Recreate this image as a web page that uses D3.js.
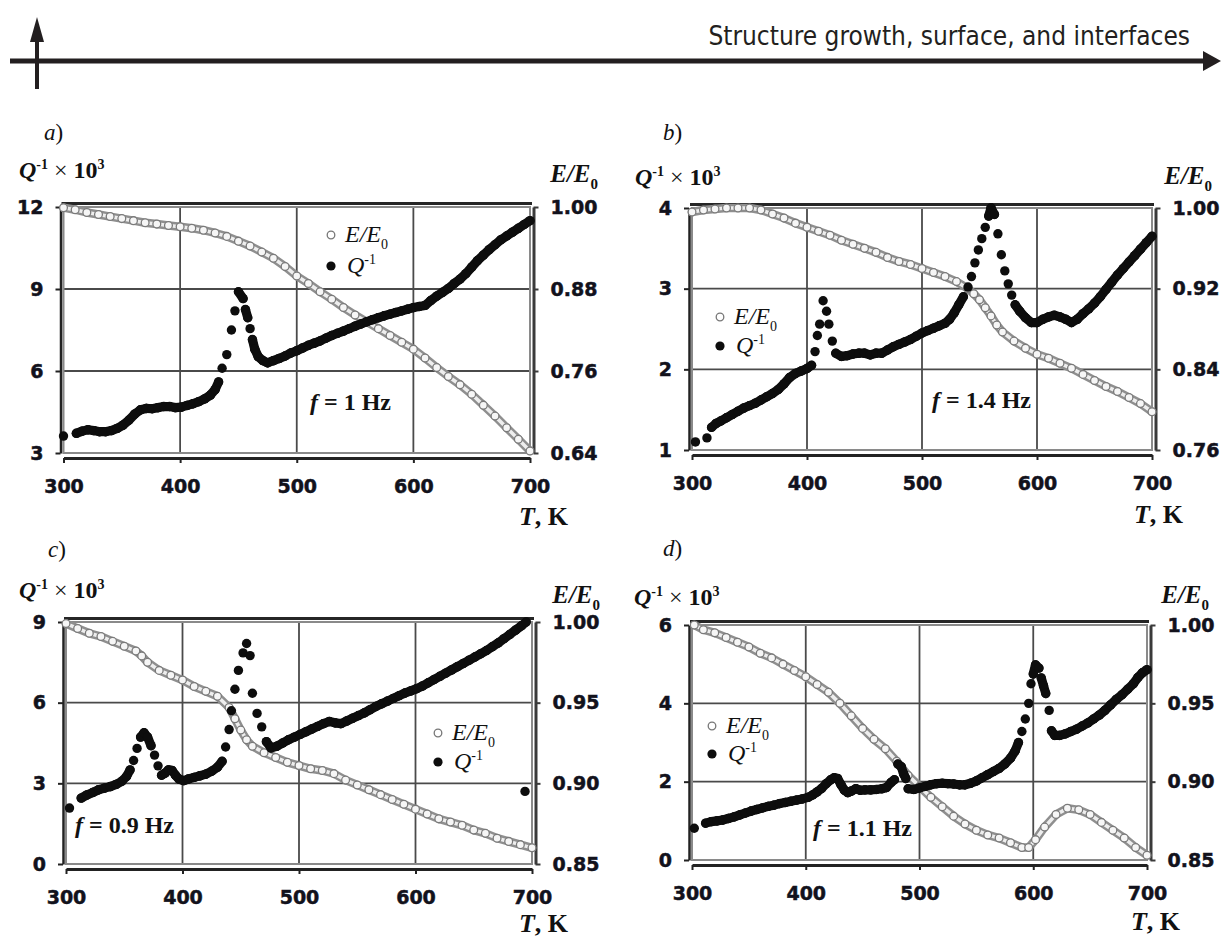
<!DOCTYPE html>
<html><head><meta charset="utf-8">
<script src="https://cdn.jsdelivr.net/npm/d3@7"></script>
<style>body{margin:0;background:#fff} svg{display:block}</style>
</head><body>
<svg id="c" width="1221" height="944"></svg>
<script>
// ---------------- DATA ----------------
const headerTitle = "Structure growth, surface, and interfaces";
const tempTicks = [300, 400, 500, 600, 700];
const tempDomain = [300, 700];

const qTicksA = [3, 6, 9, 12];        const eTicksA = [0.64, 0.76, 0.88, 1.00];
const qTicksB = [1, 2, 3, 4];         const eTicksB = [0.76, 0.84, 0.92, 1.00];
const qTicksC = [0, 3, 6, 9];         const eTicksC = [0.85, 0.90, 0.95, 1.00];
const qTicksD = [0, 2, 4, 6];         const eTicksD = [0.85, 0.90, 0.95, 1.00];

const freqA = "1", freqB = "1.4", freqC = "0.9", freqD = "1.1";

// Q^-1 x 10^3  [T, value]
const qA = [[300,3.62],[311,3.72],[316,3.8],[321,3.85],[326,3.82],[331,3.78],[336,3.78],[341,3.82],[346,3.9],[351,4.02],[356,4.2],[361,4.42],[366,4.58],[371,4.63],[376,4.62],[381,4.66],[386,4.7],[391,4.7],[396,4.66],[401,4.68],[406,4.74],[411,4.8],[416,4.88],[421,4.98],[426,5.12],[430,5.32],[433,5.6],[436,6.1],[440,6.6],[444,7.5],[447,8.2],[450,8.9],[454,8.65],[456,8.25],[458,7.95],[460,7.55],[462,7.15],[464,6.8],[467,6.52],[471,6.38],[475,6.3],[480,6.38],[485,6.46],[490,6.55],[495,6.66],[500,6.74],[505,6.84],[510,6.94],[515,7.02],[520,7.1],[525,7.2],[530,7.3],[535,7.38],[540,7.46],[545,7.55],[550,7.64],[555,7.72],[560,7.8],[565,7.88],[570,7.95],[575,8.02],[580,8.08],[585,8.14],[590,8.2],[595,8.26],[600,8.32],[605,8.36],[610,8.4],[615,8.58],[620,8.74],[625,8.88],[630,9.02],[635,9.2],[640,9.36],[645,9.56],[650,9.8],[655,10.04],[660,10.24],[665,10.44],[670,10.62],[675,10.8],[680,10.94],[685,11.08],[690,11.22],[695,11.36],[700,11.5]];
const eA = [[300,0.999],[310,0.996],[320,0.992],[330,0.989],[340,0.986],[350,0.983],[360,0.980],[370,0.977],[380,0.975],[390,0.973],[400,0.971],[410,0.969],[420,0.966],[430,0.962],[440,0.957],[450,0.950],[460,0.943],[470,0.934],[480,0.925],[490,0.913],[500,0.899],[510,0.888],[520,0.876],[530,0.865],[540,0.853],[550,0.842],[560,0.832],[570,0.822],[580,0.812],[590,0.802],[600,0.792],[610,0.779],[620,0.765],[630,0.752],[640,0.740],[650,0.726],[660,0.710],[670,0.694],[680,0.677],[690,0.660],[700,0.643]];

const qB = [[303,1.1],[313,1.15],[317,1.28],[321,1.33],[325,1.36],[330,1.4],[335,1.44],[340,1.48],[345,1.52],[350,1.55],[355,1.58],[360,1.62],[365,1.66],[370,1.7],[375,1.75],[380,1.82],[385,1.9],[390,1.95],[395,1.98],[400,2.01],[404,2.05],[407,2.22],[409,2.42],[411,2.56],[414,2.85],[417,2.72],[419,2.56],[422,2.35],[425,2.2],[430,2.16],[435,2.17],[440,2.19],[445,2.2],[450,2.2],[455,2.18],[460,2.2],[465,2.2],[470,2.24],[475,2.28],[480,2.31],[485,2.34],[490,2.37],[495,2.41],[500,2.45],[505,2.48],[510,2.51],[515,2.54],[520,2.57],[524,2.62],[528,2.7],[532,2.8],[536,2.9],[540,3.02],[543,3.15],[546,3.32],[549,3.48],[552,3.62],[555,3.76],[558,3.9],[560,4.0],[563,3.92],[566,3.68],[569,3.42],[572,3.22],[575,3.06],[578,2.92],[581,2.8],[585,2.72],[590,2.64],[595,2.58],[600,2.58],[605,2.62],[610,2.65],[615,2.67],[620,2.65],[625,2.62],[630,2.58],[635,2.62],[640,2.69],[645,2.75],[650,2.82],[655,2.9],[660,2.99],[665,3.08],[670,3.17],[675,3.25],[680,3.33],[685,3.41],[690,3.49],[695,3.57],[700,3.65]];
const eB = [[300,0.996],[310,0.998],[320,0.999],[330,1.0],[340,1.0],[350,1.0],[360,0.998],[370,0.994],[380,0.990],[390,0.985],[400,0.981],[410,0.977],[420,0.973],[430,0.968],[440,0.964],[450,0.960],[460,0.956],[470,0.951],[480,0.947],[490,0.944],[500,0.940],[510,0.936],[520,0.932],[530,0.927],[540,0.920],[545,0.915],[550,0.909],[555,0.901],[560,0.893],[565,0.884],[570,0.877],[580,0.868],[590,0.861],[600,0.855],[610,0.851],[620,0.846],[630,0.841],[640,0.835],[650,0.829],[660,0.823],[670,0.818],[680,0.812],[690,0.806],[700,0.798]];

const qC = [[303,2.08],[313,2.45],[318,2.57],[323,2.66],[328,2.76],[333,2.82],[338,2.88],[343,2.96],[348,3.08],[352,3.26],[355,3.5],[358,3.85],[361,4.3],[364,4.72],[367,4.88],[370,4.72],[373,4.4],[376,4.05],[379,3.65],[382,3.3],[385,3.38],[388,3.5],[391,3.48],[394,3.3],[397,3.16],[401,3.1],[405,3.16],[410,3.22],[415,3.28],[420,3.34],[425,3.45],[430,3.6],[434,3.82],[437,4.35],[440,5.0],[442,5.7],[445,6.5],[448,7.2],[452,7.85],[455,8.2],[458,7.75],[460,6.35],[464,5.6],[468,5.1],[472,4.55],[476,4.32],[481,4.38],[486,4.5],[491,4.62],[496,4.72],[501,4.82],[506,4.92],[511,5.02],[516,5.12],[521,5.22],[526,5.3],[531,5.25],[536,5.22],[541,5.32],[546,5.42],[551,5.52],[556,5.62],[561,5.74],[566,5.86],[571,5.96],[576,6.06],[581,6.16],[586,6.26],[591,6.36],[596,6.44],[601,6.52],[606,6.62],[611,6.74],[616,6.86],[621,6.98],[626,7.1],[631,7.22],[636,7.34],[641,7.46],[646,7.58],[651,7.7],[656,7.82],[661,7.94],[666,8.08],[671,8.22],[676,8.38],[681,8.54],[686,8.7],[691,8.86],[695,9.0],[694,2.7]];
const eC = [[300,0.999],[310,0.996],[320,0.993],[330,0.991],[340,0.988],[350,0.985],[360,0.982],[365,0.979],[370,0.975],[380,0.970],[390,0.967],[400,0.964],[410,0.960],[420,0.957],[430,0.954],[440,0.947],[445,0.940],[450,0.933],[455,0.927],[460,0.923],[470,0.919],[480,0.916],[490,0.913],[500,0.911],[510,0.909],[520,0.908],[530,0.906],[540,0.902],[550,0.899],[560,0.896],[570,0.893],[580,0.890],[590,0.887],[600,0.884],[610,0.881],[620,0.878],[630,0.876],[640,0.874],[650,0.871],[660,0.869],[670,0.866],[680,0.864],[690,0.862],[700,0.860]];

const qD = [[302,0.81],[312,0.94],[317,0.98],[322,1.0],[327,1.02],[332,1.06],[337,1.1],[342,1.15],[347,1.2],[352,1.25],[357,1.29],[362,1.33],[367,1.37],[372,1.4],[377,1.44],[382,1.47],[387,1.5],[392,1.53],[397,1.56],[402,1.6],[406,1.66],[410,1.74],[414,1.83],[418,1.95],[422,2.05],[425,2.1],[428,2.08],[431,1.92],[434,1.78],[437,1.72],[440,1.76],[444,1.82],[448,1.78],[452,1.79],[457,1.79],[462,1.8],[467,1.82],[471,1.85],[475,1.98],[478,2.05],[481,2.45],[484,2.38],[486,2.2],[488,2.08],[490,1.82],[495,1.8],[500,1.84],[505,1.88],[510,1.92],[515,1.95],[520,1.96],[525,1.95],[530,1.94],[535,1.92],[540,1.92],[545,1.96],[550,2.02],[555,2.1],[560,2.18],[565,2.26],[570,2.34],[575,2.45],[580,2.6],[584,2.78],[587,3.0],[590,3.28],[593,3.6],[596,4.0],[598,4.5],[600,4.75],[602,4.98],[605,4.9],[607,4.65],[609,4.45],[611,4.25],[614,3.82],[616,3.3],[619,3.18],[623,3.18],[628,3.22],[633,3.28],[638,3.34],[643,3.42],[648,3.5],[653,3.6],[658,3.7],[663,3.82],[668,3.96],[673,4.1],[678,4.22],[683,4.36],[688,4.5],[692,4.66],[696,4.78],[700,4.86]];
const eD = [[302,1.0],[310,0.997],[320,0.995],[330,0.992],[340,0.989],[350,0.986],[360,0.982],[370,0.979],[380,0.975],[390,0.971],[400,0.967],[410,0.962],[420,0.957],[430,0.950],[440,0.942],[450,0.934],[460,0.927],[470,0.921],[480,0.913],[490,0.904],[500,0.897],[510,0.890],[520,0.884],[530,0.878],[540,0.873],[550,0.869],[560,0.866],[570,0.864],[580,0.861],[590,0.858],[596,0.858],[602,0.863],[610,0.871],[620,0.879],[630,0.883],[640,0.882],[650,0.879],[660,0.874],[670,0.869],[680,0.864],[690,0.858],[700,0.853]];

// ---------------- LAYOUT ----------------
const panels = [
  {id:"a", q:qA, e:eA, qTicks:qTicksA, eTicks:eTicksA, freq:freqA,
   L:63.5, R:530, T:207, B:453, letter:[44,140], qTitle:[19,178], eTitle:[598,182], tk:[568,525],
   legE:[331,235], legQ:[331,266], freqPos:[310,410]},
  {id:"b", q:qB, e:eB, qTicks:qTicksB, eTicks:eTicksB, freq:freqB,
   L:692, R:1152, T:208, B:450, letter:[663,140], qTitle:[635,185], eTitle:[1212,184], tk:[1183,523],
   legE:[720,317], legQ:[720,346], freqPos:[932,408]},
  {id:"c", q:qC, e:eC, qTicks:qTicksC, eTicks:eTicksC, freq:freqC,
   L:66, R:532, T:622, B:864, letter:[48,557], qTitle:[19,598], eTitle:[600,603], tk:[568,932],
   legE:[438,733], legQ:[438,762], freqPos:[75,833]},
  {id:"d", q:qD, e:eD, qTicks:qTicksD, eTicks:eTicksD, freq:freqD,
   L:692, R:1147, T:625, B:860, letter:[663,556], qTitle:[634,605], eTitle:[1209,603], tk:[1180,930],
   legE:[712,726], legQ:[712,754], freqPos:[813,836]}
];

const svg = d3.select("#c");
const SERIF = "'Liberation Serif','Times New Roman',serif";
const SANS = "'DejaVu Sans',Arial,sans-serif";

// ---------------- HEADER ----------------
const hdr = svg.append("g");
hdr.append("line").attr("x1",10).attr("x2",1206).attr("y1",61).attr("y2",61)
  .attr("stroke","#231f20").attr("stroke-width",5);
hdr.append("path").attr("d","M1203,51 L1221,61 L1203,71 Z").attr("fill","#231f20");
hdr.append("line").attr("x1",37).attr("x2",37).attr("y1",89).attr("y2",38)
  .attr("stroke","#231f20").attr("stroke-width",4);
hdr.append("path").attr("d","M30,42 L37,17 L44,42 Z").attr("fill","#231f20");
hdr.append("text").attr("x",1190).attr("y",45).attr("text-anchor","end")
  .attr("font-family","'DejaVu Sans Condensed','DejaVu Sans',sans-serif")
  .attr("font-stretch","condensed").attr("font-size",26).attr("fill","#231f20")
  .text(headerTitle);

// ---------------- PANELS ----------------
function drawPanel(p) {
  const g = svg.append("g").attr("class","panel-"+p.id);
  const x = d3.scaleLinear().domain(tempDomain).range([p.L, p.R]);
  const yQ = d3.scaleLinear().domain(d3.extent(p.qTicks)).range([p.B, p.T]);
  const yE = d3.scaleLinear().domain(d3.extent(p.eTicks)).range([p.B, p.T]);

  // grid
  g.append("g").selectAll("line").data(tempTicks.slice(1,-1)).join("line")
    .attr("x1",d=>x(d)).attr("x2",d=>x(d)).attr("y1",p.T).attr("y2",p.B)
    .attr("stroke","#4a4a4a").attr("stroke-width",1.8);
  g.append("g").selectAll("line").data(p.qTicks.slice(1,-1)).join("line")
    .attr("x1",p.L).attr("x2",p.R).attr("y1",d=>yQ(d)).attr("y2",d=>yQ(d))
    .attr("stroke","#4a4a4a").attr("stroke-width",1.8);
  // plot frame
  g.append("rect").attr("x",p.L).attr("y",p.T).attr("width",p.R-p.L).attr("height",p.B-p.T)
    .attr("fill","none").attr("stroke","#8a8a8a").attr("stroke-width",2);
  g.append("line").attr("x1",p.L-2).attr("x2",p.R+2).attr("y1",p.T-3.5).attr("y2",p.T-3.5)
    .attr("stroke","#262626").attr("stroke-width",3.2);

  // axes
  const styleAxis = (sel, w, col) => {
    sel.select(".domain").attr("stroke",col).attr("stroke-width",w);
    sel.selectAll(".tick line").attr("stroke",col).attr("stroke-width",2);
    sel.selectAll(".tick text").style("font-family",SANS).style("font-weight","bold")
      .style("font-size","19px").attr("fill","#12121c")
      .attr("stroke","#12121c").attr("stroke-width",0.5);
  };
  const ax = g.append("g").attr("transform",`translate(0,${p.B+5})`)
    .call(d3.axisBottom(x).tickValues(tempTicks).tickSize(5).tickSizeOuter(0).tickPadding(17));
  styleAxis(ax, 3, "#222");
  const ayl = g.append("g").attr("transform",`translate(${p.L-3},0)`)
    .call(d3.axisLeft(yQ).tickValues(p.qTicks).tickSize(5).tickSizeOuter(0).tickPadding(12).tickFormat(d3.format("d")));
  styleAxis(ayl, 2.5, "#222");
  const ayr = g.append("g").attr("transform",`translate(${p.R+3.5},0)`)
    .call(d3.axisRight(yE).tickValues(p.eTicks).tickSize(5).tickSizeOuter(0).tickPadding(12).tickFormat(d3.format(".2f")));
  styleAxis(ayr, 3, "#3a3a3a");

  // E/E0 series: rope + open circles
  const lineE = d3.line().x(d=>x(d[0])).y(d=>yE(d[1]));
  g.append("path").attr("d",lineE(p.e)).attr("fill","none").attr("stroke","#8f8f8f")
    .attr("stroke-width",8.5).attr("stroke-linejoin","round").attr("stroke-linecap","round");
  g.append("path").attr("d",lineE(p.e)).attr("fill","none").attr("stroke","#eeeeee")
    .attr("stroke-width",3.6).attr("stroke-linejoin","round").attr("stroke-linecap","round");
  g.append("g").selectAll("circle").data(p.e).join("circle")
    .attr("cx",d=>x(d[0])).attr("cy",d=>yE(d[1])).attr("r",3.9)
    .attr("fill","#f6f6f6").attr("stroke","#7a7a7a").attr("stroke-width",1.3);

  // Q^-1 series: dense dots, joined where neighbours touch
  const segs = [];
  for (let i = 1; i < p.q.length; i++) {
    const a = p.q[i-1], b = p.q[i];
    const dx = x(b[0]) - x(a[0]), dy = yQ(b[1]) - yQ(a[1]);
    if (Math.hypot(dx, dy) < 10) segs.push([a, b]);
  }
  g.append("g").selectAll("line").data(segs).join("line")
    .attr("x1",d=>x(d[0][0])).attr("y1",d=>yQ(d[0][1])).attr("x2",d=>x(d[1][0])).attr("y2",d=>yQ(d[1][1]))
    .attr("stroke","#0d0d0d").attr("stroke-width",9.2).attr("stroke-linecap","round");
  g.append("g").selectAll("circle").data(p.q).join("circle")
    .attr("cx",d=>x(d[0])).attr("cy",d=>yQ(d[1])).attr("r",4.7).attr("fill","#0d0d0d");

  // panel letter
  const lt = g.append("text").attr("x",p.letter[0]).attr("y",p.letter[1])
    .attr("font-family",SERIF).attr("font-size",23).attr("fill","#111");
  lt.append("tspan").attr("font-style","italic").text(p.id);
  lt.append("tspan").text(")");

  // left title  Q^-1 x 10^3
  const qt = g.append("text").attr("x",p.qTitle[0]).attr("y",p.qTitle[1])
    .attr("font-family",SERIF).attr("font-size",24).attr("font-weight","bold").attr("fill","#111");
  qt.append("tspan").attr("font-style","italic").text("Q");
  qt.append("tspan").attr("font-size",14).attr("dy",-9).text("-1");
  qt.append("tspan").attr("dy",9).attr("font-weight","normal").text(" \u00d7 ");
  qt.append("tspan").text("10");
  qt.append("tspan").attr("font-size",14).attr("dy",-9).text("3");

  // right title E/E0
  const et = g.append("text").attr("x",p.eTitle[0]).attr("y",p.eTitle[1]).attr("text-anchor","end")
    .attr("font-family",SERIF).attr("font-size",25).attr("font-weight","bold").attr("fill","#111");
  et.append("tspan").attr("font-style","italic").text("E/E");
  et.append("tspan").attr("font-size",15).attr("dy",7).text("0");

  // x title T, K
  const tt = g.append("text").attr("x",p.tk[0]).attr("y",p.tk[1]).attr("text-anchor","end")
    .attr("font-family",SERIF).attr("font-size",26).attr("font-weight","bold").attr("fill","#111");
  tt.append("tspan").attr("font-style","italic").text("T");
  tt.append("tspan").text(", K");

  // legend
  g.append("circle").attr("cx",p.legE[0]).attr("cy",p.legE[1]).attr("r",3.8)
    .attr("fill","#fff").attr("stroke","#777").attr("stroke-width",1.3);
  const le = g.append("text").attr("x",p.legE[0]+14).attr("y",p.legE[1]+7)
    .attr("font-family",SERIF).attr("font-size",24).attr("font-style","italic").attr("fill","#111");
  le.append("tspan").text("E/E");
  le.append("tspan").attr("font-size",14).attr("dy",7).attr("font-style","normal").text("0");
  g.append("circle").attr("cx",p.legQ[0]).attr("cy",p.legQ[1]).attr("r",4.6).attr("fill","#0d0d0d");
  const lq = g.append("text").attr("x",p.legQ[0]+16).attr("y",p.legQ[1]+7)
    .attr("font-family",SERIF).attr("font-size",24).attr("font-style","italic").attr("fill","#111");
  lq.append("tspan").text("Q");
  lq.append("tspan").attr("font-size",14).attr("dy",-9).attr("font-style","normal").text("-1");

  // frequency note
  const ft = g.append("text").attr("x",p.freqPos[0]).attr("y",p.freqPos[1])
    .attr("font-family",SERIF).attr("font-size",24).attr("font-weight","bold").attr("fill","#111");
  ft.append("tspan").attr("font-style","italic").text("f");
  ft.append("tspan").text(" = " + p.freq + " Hz");
}

panels.forEach(drawPanel);
</script>
</body></html>
